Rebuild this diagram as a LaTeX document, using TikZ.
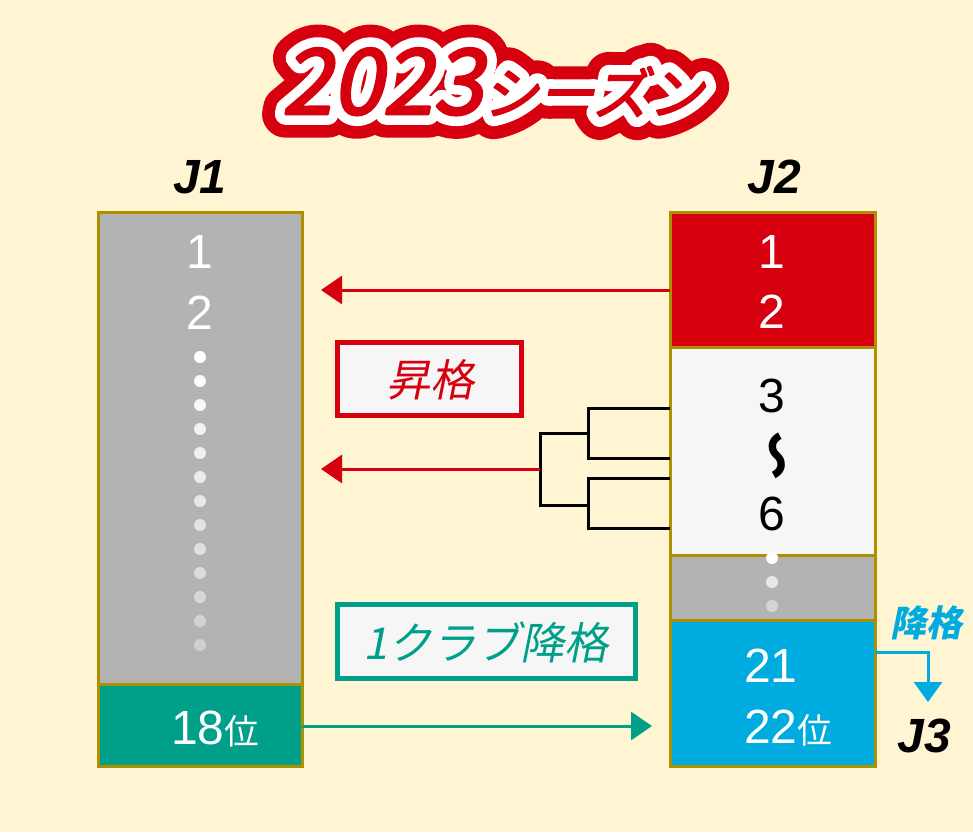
\documentclass[tikz,border=0pt]{standalone}
\usepackage{fontspec}
\setmainfont{Liberation Sans}
\newfontfamily\jp{Noto Sans CJK JP}
\newfontfamily\jpsl{Noto Sans CJK JP}[FakeSlant=0.2]
\newfontfamily\tOutBig{Noto Sans CJK JP}[FakeSlant=0.2, FakeBold=52]
\newfontfamily\tOutSm{Noto Sans CJK JP}[FakeSlant=0.2, FakeBold=84]
\newfontfamily\tMidBig{Noto Sans CJK JP}[FakeSlant=0.2, FakeBold=24]
\newfontfamily\tMidSm{Noto Sans CJK JP}[FakeSlant=0.2, FakeBold=38]
\newfontfamily\tTop{Noto Sans CJK JP}[FakeSlant=0.2, FakeBold=3]
\usetikzlibrary{arrows.meta}
\definecolor{bg}{HTML}{FFF5D2}
\definecolor{jred}{HTML}{D7000F}
\definecolor{jgray}{HTML}{B3B3B3}
\definecolor{jteal}{HTML}{009F89}
\definecolor{jblue}{HTML}{00ABE0}
\definecolor{jolive}{HTML}{AD9000}
\definecolor{jlight}{HTML}{F6F6F6}
\tikzset{
  seg/.style={draw=jolive, line width=2.25pt, inner sep=0pt, outer sep=0pt},
  num/.style={font=\fontsize{36}{36}\selectfont, anchor=base, inner sep=0pt},
  lbl/.style={font=\bfseries\itshape\fontsize{36}{36}\selectfont, anchor=base, inner sep=0pt},
  arr/.style={line width=2.25pt, -{Triangle[length=15.75pt,width=21pt]}},
  brk/.style={line width=2.25pt, draw=black},
  tagbox/.style={line width=3.75pt, fill=jlight, inner sep=0pt, outer sep=0pt},
  ttl/.style={anchor=base, inner sep=0pt, line join=round, line cap=round},
}
\begin{document}
\begin{tikzpicture}[x=0.75pt, y=-0.75pt]
\useasboundingbox (0,0) rectangle (973,832);
\fill[bg] (0,0) rectangle (973,832);

% title: outer red ring, white ring, red letters
\node[ttl, text=jred] (title0) at (493,114) {{\tOutBig\fontsize{68}{68}\selectfont 2023}{\tOutSm\fontsize{42}{42}\selectfont シーズン}};
\node[ttl, text=white] (title1) at (493,114) {{\tMidBig\fontsize{68}{68}\selectfont 2023}{\tMidSm\fontsize{42}{42}\selectfont シーズン}};
\node[ttl, text=jred] (title) at (493,114) {{\tTop\fontsize{68}{68}\selectfont 2023}{\tTop\fontsize{42}{42}\selectfont シーズン}};

% J1 column
\node[seg, fill=jgray, minimum width=153pt, minimum height=354pt] (j1g) at (200,448) {};
\node[seg, fill=jteal, minimum width=153pt, minimum height=61.5pt] (j1t) at (200,725) {};
\node[lbl] (j1lab) at (200,193) {J1};
\node[num, text=white] (j1n1) at (200,268) {1};
\node[num, text=white] (j1n2) at (200,329) {2};
\foreach \i in {0,...,12} {
  \pgfmathsetmacro\w{100-5.3*\i}
  \fill[white!\w!jgray] (200,357+24*\i) circle (4.5pt);
}
\node[num, anchor=base west, text=white] (j1n18) at (171,744) {18{\jp\fontsize{26}{26}\selectfont 位}};

% J2 column
\node[seg, fill=jred, minimum width=153.75pt, minimum height=101.25pt] (j2r) at (772.5,279.5) {};
\node[seg, fill=jlight, minimum width=153.75pt, minimum height=156pt] (j2w) at (772.5,451) {};
\node[seg, fill=jgray, minimum width=153.75pt, minimum height=48.75pt] (j2g) at (772.5,587.5) {};
\node[seg, fill=jblue, minimum width=153.75pt, minimum height=109.5pt] (j2b) at (772.5,693) {};
\node[lbl] (j2lab) at (774,193) {J2};
\node[num, text=white] (j2n1) at (772,268) {1};
\node[num, text=white] (j2n2) at (772,328) {2};
\node[num] (j2n3) at (772,412) {3};
\node[inner sep=0pt] (j2til) at (772,456) {\jp\bfseries\fontsize{37}{37}\selectfont\scalebox{-1}[1]{\rotatebox{90}{〜}}};
\node[num] (j2n6) at (772,530) {6};
\fill[white] (772,558) circle (4.5pt);
\fill[white!70!jgray] (772,582) circle (4.5pt);
\fill[white!45!jgray] (772,606) circle (4.5pt);
\node[num, anchor=base west, text=white] (j2n21) at (744,682) {21};
\node[num, anchor=base west, text=white] (j2n22) at (744,743) {22{\jp\fontsize{26}{26}\selectfont 位}};

% promotion arrows
\coordinate (a1end) at (321,290);
\draw[arr, jred] (j2r.west |- a1end) -- (a1end);
\coordinate (b1) at (670,408);
\coordinate (b2) at (670,458);
\coordinate (b3) at (670,478);
\coordinate (b4) at (670,528);
\draw[brk] (b1) -| (588,458) -- (b2);
\draw[brk] (b3) -| (588,528) -- (b4);
\draw[brk] (588,433) -| (540,505) -- (588,505);
\coordinate (bj) at (540,469);
\coordinate (a2end) at (321,469);
\draw[arr, jred] (bj) -- (a2end);

\node[tagbox, draw=jred, minimum width=138pt, minimum height=54.75pt] (promo) at (429.5,379) {};
\node[text=jred, font=\jpsl\fontsize{33}{33}\selectfont] (promot) at (430,380) {昇格};

% relegation
\node[tagbox, draw=jteal, minimum width=223.5pt, minimum height=55.5pt] (rel) at (486.5,641.5) {};
\node[text=jteal, font=\jpsl\fontsize{33}{33}\selectfont] (relt) at (486,642) {1クラブ降格};
\coordinate (a3end) at (652,726);
\draw[arr, jteal] (j1t.east |- a3end) -- (a3end);

% J3
\coordinate (c1) at (928,652);
\coordinate (c2) at (928,702);
\draw[line width=2.25pt, jblue, -{Triangle[length=15pt,width=21pt]}] (j2b.east |- c1) -- (c1) -- (c2);
\node[text=jblue, font=\jpsl\bfseries\fontsize{27}{27}\selectfont] (down) at (926,623) {降格};
\node[lbl] (j3lab) at (924,752) {J3};
\end{tikzpicture}
\end{document}
